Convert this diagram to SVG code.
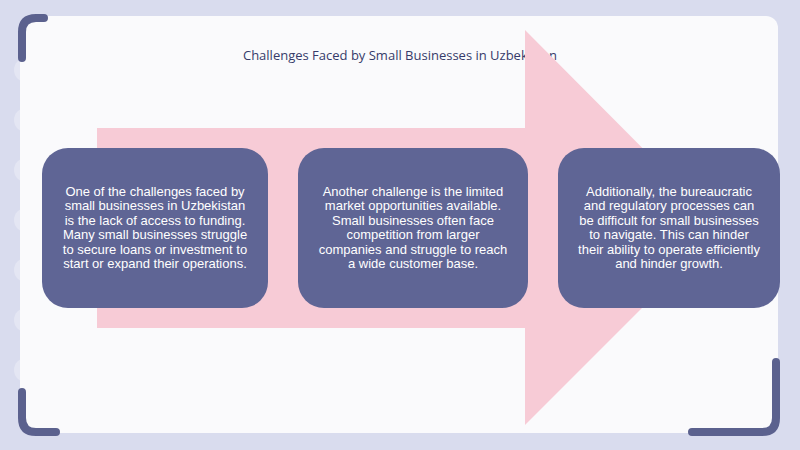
<svg xmlns="http://www.w3.org/2000/svg" width="800" height="450" viewBox="0 0 800 450">
<style>
.box{fill:#5f6595}
.bt{font-family:"Liberation Sans",Arial,sans-serif;font-size:13px;fill:#ffffff;text-anchor:middle}
.br{fill:none;stroke:#5b618e;stroke-width:8;stroke-linecap:round}
</style>
<rect width="800" height="450" fill="#d9dcee"/>
<g fill="#e4e6f3">
<circle cx="26" cy="70" r="12"/><circle cx="26" cy="120" r="12"/><circle cx="26" cy="170" r="12"/><circle cx="26" cy="220" r="12"/><circle cx="26" cy="270" r="12"/><circle cx="26" cy="320" r="12"/><circle cx="26" cy="370" r="12"/>
</g>
<rect x="20" y="16" width="758" height="417" rx="12" fill="#fafafc"/>
<text x="400" y="60" font-family="Open Sans, sans-serif" font-size="13" fill="#363b6a" text-anchor="middle">Challenges Faced by Small Businesses in Uzbekistan</text>
<polygon points="97,128 525,128 525,30 722,228 525,425 525,328 97,328" fill="#f7cbd6"/>
<path class="br" d="M44,18 H36 Q22,18 22,32 V58"/>
<path class="br" d="M22,392 V418 Q22,432 36,432 H56"/>
<path class="br" d="M776,362 V418 Q776,432 762,432 H692"/>
<g id="n1"><rect class="box" x="42" y="148" width="226" height="160" rx="26"/>
<text class="bt" x="155" y="196"><tspan x="155">One of the challenges faced by</tspan><tspan x="155" dy="14.4">small businesses in Uzbekistan</tspan><tspan x="155" dy="14.4">is the lack of access to funding.</tspan><tspan x="155" dy="14.4">Many small businesses struggle</tspan><tspan x="155" dy="14.4">to secure loans or investment to</tspan><tspan x="155" dy="14.4">start or expand their operations.</tspan></text></g>
<g id="n2"><rect class="box" x="298" y="148" width="230" height="160" rx="26"/>
<text class="bt" x="413" y="196"><tspan x="413">Another challenge is the limited</tspan><tspan x="413" dy="14.4">market opportunities available.</tspan><tspan x="413" dy="14.4">Small businesses often face</tspan><tspan x="413" dy="14.4">competition from larger</tspan><tspan x="413" dy="14.4">companies and struggle to reach</tspan><tspan x="413" dy="14.4">a wide customer base.</tspan></text></g>
<g id="n3"><rect class="box" x="558" y="148" width="222" height="160" rx="26"/>
<text class="bt" x="669" y="196"><tspan x="669">Additionally, the bureaucratic</tspan><tspan x="669" dy="14.4">and regulatory processes can</tspan><tspan x="669" dy="14.4">be difficult for small businesses</tspan><tspan x="669" dy="14.4">to navigate. This can hinder</tspan><tspan x="669" dy="14.4">their ability to operate efficiently</tspan><tspan x="669" dy="14.4">and hinder growth.</tspan></text></g>
<g id="connectors"></g>
</svg>
